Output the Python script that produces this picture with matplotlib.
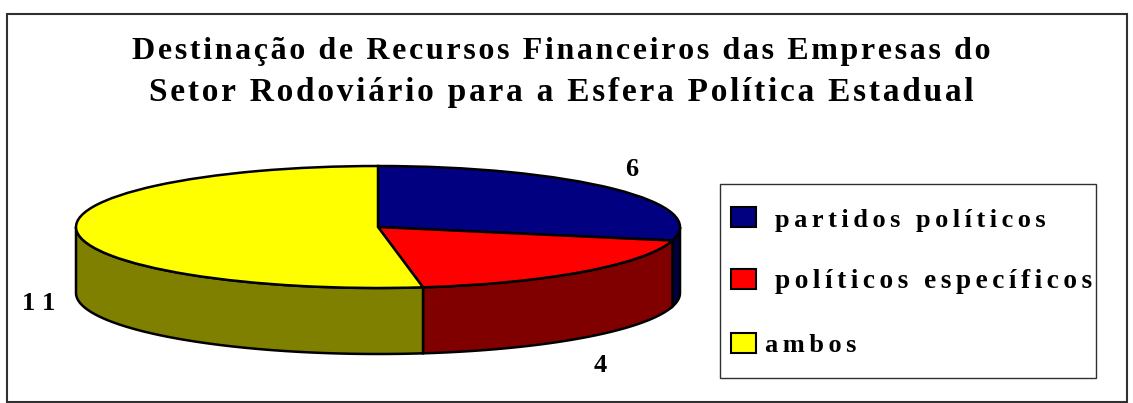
import numpy as np
import matplotlib
matplotlib.use('Agg')
import matplotlib.pyplot as plt
from matplotlib.patches import Polygon, Rectangle
from matplotlib.transforms import Affine2D

title_lines = ["Destinação de Recursos Financeiros das Empresas do",
               "Setor Rodoviário para a Esfera Política Estadual"]
categories = ["partidos políticos", "políticos específicos", "ambos"]
values = [6, 4, 11]
top_colors = ['#000080', '#ff0000', '#ffff00']
side_colors = ['#000040', '#800000', '#808000']

plt.rcParams['font.family'] = ['Liberation Serif', 'DejaVu Serif']
HAIR = '\u200a'

def spaced(s, n=1):
    return (HAIR * n).join(s)

W, H = 1133, 403
CX, CY, RX, RY, DEPTH = 378, 227, 302, 61, 66

fig = plt.figure(figsize=(W / 100, H / 100), dpi=100)
ax = fig.add_axes([0, 0, 1, 1])

# tampa da pizza, achatada para parecer 3D
wedges, _ = ax.pie(values, colors=top_colors, startangle=90, counterclock=False,
                   wedgeprops={'edgecolor': 'black', 'linewidth': 1.8})
ax.set_aspect('auto')
ax.set_xlim(0, W)
ax.set_ylim(H, 0)
ax.axis('off')
squash = Affine2D().scale(RX, RY * -1).translate(CX, CY) + ax.transData
for w in wedges:
    w.set_transform(squash)
    w.set_zorder(3)

# parede lateral: so a metade de baixo aparece
edges = np.cumsum([0] + values) / sum(values) * 360
for i in range(len(values)):
    a0 = max(edges[i], 90)
    a1 = min(edges[i + 1], 270)
    if a1 <= a0:
        continue
    t = np.radians(np.linspace(a0, a1, 80))
    x = CX + RX * np.sin(t)
    y = CY - RY * np.cos(t)
    pts = np.vstack([np.column_stack([x, y]),
                     np.column_stack([x[::-1], y[::-1] + DEPTH])])
    ax.add_patch(Polygon(pts, closed=True, facecolor=side_colors[i],
                         edgecolor='black', linewidth=1.8, zorder=2))

# moldura externa
ax.add_patch(Rectangle((6.5, 13.5), 1120, 388, fill=False, edgecolor='#303030', linewidth=1.5))

for line, yy, fs in zip(title_lines, [52, 92], [23, 24]):
    ax.text(561, yy, spaced(line), ha='center', va='center', fontsize=fs,
            fontweight='bold', color='black')

# rotulos de valor
for v, (tx, ty) in zip(values, [(632, 169), (600, 365), (39, 303)]):
    ax.text(tx, ty, spaced(str(v), 3), ha='center', va='center', fontsize=19,
            fontweight='bold', color='black')

# legenda
ax.add_patch(Rectangle((719.5, 184), 376, 194, facecolor='white', edgecolor='#303030', linewidth=1))
for name, color, sy, tx, fs in zip(categories, top_colors, [217, 279, 343], [775, 775, 765], [19, 19.7, 19]):
    ax.add_patch(Rectangle((731, sy - 10), 25, 20, facecolor=color, edgecolor='black', linewidth=1.5))
    ax.text(tx, sy + 3, spaced(name, 2), ha='left', va='center', fontsize=fs,
            fontweight='bold', color='black')

fig.savefig('out.png', dpi=100, facecolor='white')
